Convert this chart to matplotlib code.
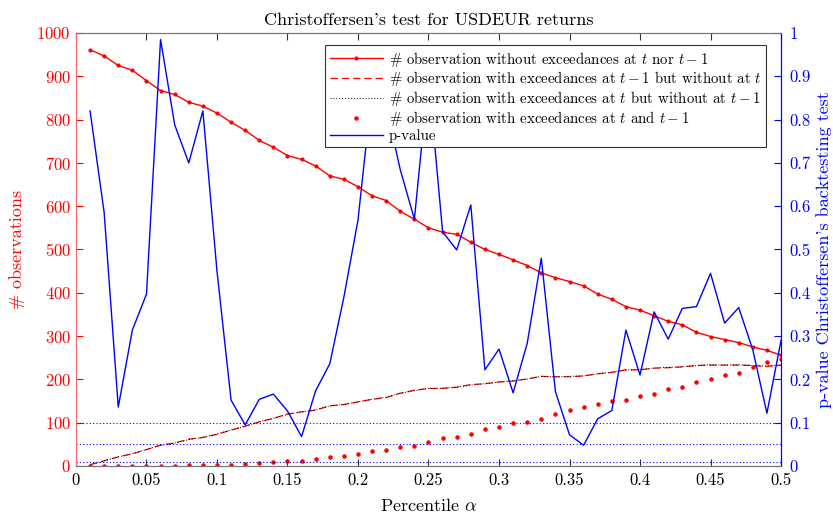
import numpy as np
import matplotlib.pyplot as plt

plt.rcParams['font.family'] = 'serif'
plt.rcParams['font.serif'] = ['cmr10']
plt.rcParams['mathtext.fontset'] = 'cm'
plt.rcParams['axes.formatter.use_mathtext'] = True

alpha = np.round(np.arange(1, 51) * 0.01, 2)

no_exc = [961, 947, 925, 914, 890, 867, 858, 840, 831, 815,
          794, 775, 752, 736, 717, 708, 693, 670, 662, 645,
          624, 613, 588, 570, 550, 540, 535, 517, 500, 489,
          476, 463, 446, 435, 426, 416, 397, 385, 368, 360,
          347, 334, 326, 309, 299, 292, 285, 275, 267, 256]

exc_prev = [3, 12, 21, 28, 38, 48, 53, 62, 66, 73,
            83, 92, 102, 110, 120, 125, 129, 139, 142, 148,
            154, 158, 168, 175, 179, 179, 182, 188, 190, 194,
            196, 201, 207, 206, 206, 208, 213, 216, 222, 222,
            226, 227, 229, 232, 233, 233, 233, 232, 230, 233]

exc_now = [3, 12, 21, 29, 38, 48, 53, 61, 66, 74,
           83, 92, 102, 110, 119, 125, 130, 139, 142, 148,
           154, 159, 168, 174, 179, 180, 182, 187, 190, 194,
           197, 201, 207, 206, 207, 208, 213, 217, 222, 223,
           226, 228, 229, 232, 234, 233, 234, 232, 231, 233]

exc_both = [0, 0, 0, 1, 1, 1, 1, 2, 3, 3,
            3, 4, 6, 9, 11, 11, 15, 20, 23, 28,
            35, 38, 43, 47, 56, 65, 68, 73, 86, 90,
            99, 102, 108, 119, 129, 136, 143, 149, 153, 162,
            167, 178, 182, 195, 202, 210, 215, 228, 240, 246]

pvalue = [0.82, 0.585, 0.136, 0.314, 0.397, 0.985, 0.788, 0.70, 0.82, 0.45,
          0.152, 0.095, 0.154, 0.166, 0.127, 0.068, 0.174, 0.236, 0.39, 0.568,
          0.87, 0.83, 0.684, 0.57, 0.90, 0.541, 0.499, 0.603, 0.222, 0.27,
          0.169, 0.283, 0.48, 0.172, 0.072, 0.048, 0.109, 0.128, 0.314, 0.21,
          0.356, 0.293, 0.364, 0.368, 0.445, 0.33, 0.366, 0.268, 0.122, 0.29]

levels = [0.1, 0.05, 0.01]

fig = plt.figure(figsize=(8.33, 5.14), dpi=100)
ax = fig.add_axes([0.0912, 0.0934, 0.8464, 0.8424])
ax2 = ax.twinx()

l1, = ax.plot(alpha, no_exc, color='red', lw=1, marker='.', ms=4,
              label=r'# observation without exceedances at $t$ nor $t-1$')
l2, = ax.plot(alpha, exc_prev, color='red', lw=0.9, ls=(0, (6, 3)),
              label=r'# observation with exceedances at $t-1$ but without at $t$')
l3, = ax.plot(alpha, exc_now, color='black', lw=0.7, ls=(0, (1, 2)),
              label=r'# observation with exceedances at $t$ but without at $t-1$')
l4, = ax.plot(alpha, exc_both, color='red', lw=0, marker='.', ms=4.5,
              label=r'# observation with exceedances at $t$ and $t-1$')

l5, = ax2.plot(alpha, pvalue, color='blue', lw=1, label='p-value')
for lv in levels:
    ax2.axhline(lv, color='blue', lw=0.8, ls=(0, (1, 2)))

ax.set_xlim(0, 0.5)
ax.set_ylim(0, 1000)
ax2.set_ylim(0, 1)
ax.set_xticks(np.arange(0, 0.51, 0.05))
ax.set_xticklabels(['0', '0.05', '0.1', '0.15', '0.2', '0.25', '0.3',
                    '0.35', '0.4', '0.45', '0.5'])
ax.set_yticks(np.arange(0, 1001, 100))
ax2.set_yticks(np.arange(0, 1.01, 0.1))
ax2.set_yticklabels(['0', '0.1', '0.2', '0.3', '0.4', '0.5', '0.6',
                     '0.7', '0.8', '0.9', '1'])

ax.tick_params(axis='x', direction='in', top=True, length=5, labelsize=12,
               colors='#333333', labelcolor='black', pad=5)
ax.tick_params(axis='y', direction='in', length=5, labelsize=12,
               colors='red')
ax2.tick_params(axis='y', direction='in', length=5, labelsize=12,
                colors='blue', pad=6)

for a in (ax, ax2):
    a.spines['top'].set_color('#777777')
    a.spines['bottom'].set_color('#777777')
    a.spines['left'].set_color('#ff6666')
    a.spines['right'].set_color('blue')

ax.set_xlabel(r'Percentile $\alpha$', fontsize=13, labelpad=6)
ax.set_ylabel('# observations', fontsize=13, color='red', labelpad=8)
ax2.set_ylabel("p-value Christoffersen's backtesting test", fontsize=13,
               color='blue')
ax.set_title("Christoffersen's test for USDEUR returns", fontsize=13)

leg = ax2.legend(handles=[l1, l2, l3, l4, l5], loc='upper right',
                 bbox_to_anchor=(0.979, 0.972), borderaxespad=0,
                 fontsize=10.7, frameon=True, fancybox=False, framealpha=1,
                 handlelength=3.6, handletextpad=0.4, labelspacing=0.06,
                 borderpad=0.3)
leg.get_frame().set_edgecolor('#333333')
leg.get_frame().set_linewidth(0.8)

fig.savefig('out.png', dpi=100)
